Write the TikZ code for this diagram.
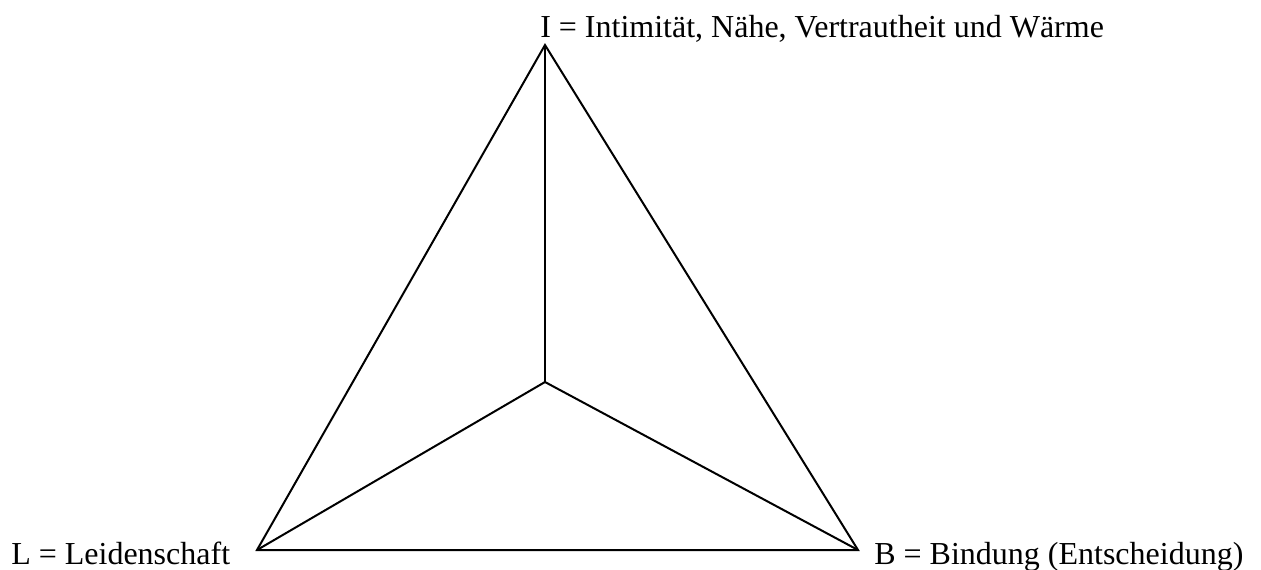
\documentclass[tikz,border=0pt]{standalone}
\usepackage{fontspec}
\setmainfont{Liberation Serif}
\usepackage{tikz}
\usetikzlibrary{positioning}

\begin{document}
\begin{tikzpicture}[
  x=0.75pt, y=-0.75pt,
  edge/.style={draw=black, line width=1.5pt, line join=miter},
  lbl/.style={anchor=base west, inner sep=0pt, font=\fontsize{24}{28}\selectfont}
]
  \useasboundingbox (0,0) rectangle (1261,569);

  \coordinate (vi) at (545,45);
  \coordinate (vl) at (257,550);
  \coordinate (vb) at (858,550);
  \coordinate (vm) at (545,382);

  \node[lbl] (ti) at (540,37) {I = Intimität, Nähe, Vertrautheit und Wärme};
  \node[lbl] (tl) at (11,564) {L = Leidenschaft};
  \node[lbl] (tb) at (874,564) {B = Bindung (Entscheidung)};

  \draw[edge] (vi) -- (vl) -- (vb) -- cycle;
  \draw[edge] (vm) -- (vi);
  \draw[edge] (vm) -- (vl);
  \draw[edge] (vm) -- (vb);
\end{tikzpicture}
\end{document}
